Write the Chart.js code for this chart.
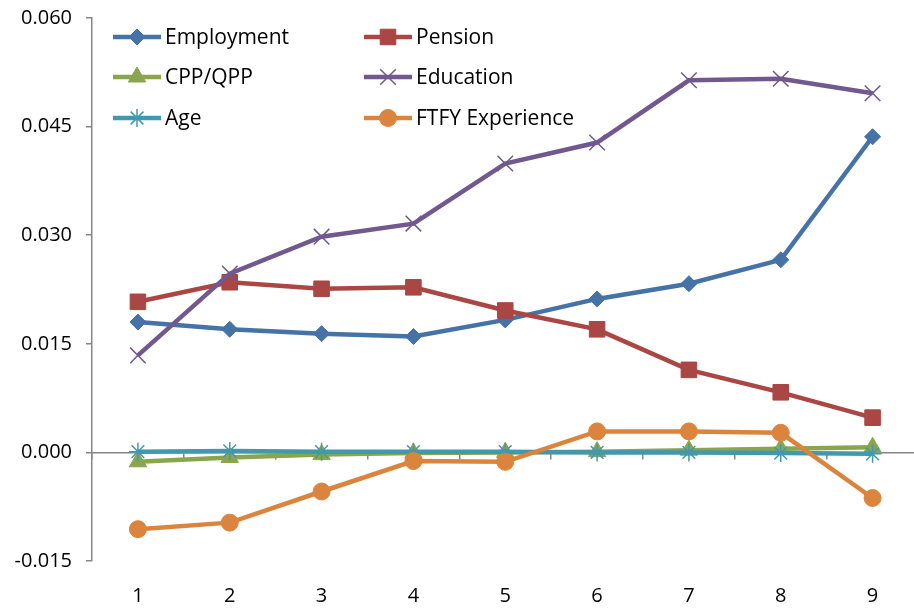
<!DOCTYPE html>
<html>
<head>
<meta charset="utf-8">
<script src="https://cdn.jsdelivr.net/npm/chart.js@4/dist/chart.umd.min.js"></script>
<style>
html, body { margin: 0; padding: 0; overflow: hidden; background: #fff; }
#wrap { position: relative; width: 931px; height: 620px; margin-top: -8px; }
</style>
</head>
<body>
<div id="wrap"><canvas id="c"></canvas></div>
<script>
const categories = ['1', '2', '3', '4', '5', '6', '7', '8', '9'];
const employment = [0.0180, 0.0170, 0.0164, 0.0160, 0.0183, 0.0212, 0.0233, 0.0266, 0.0436];
const pension    = [0.0208, 0.0235, 0.0226, 0.0228, 0.0196, 0.0170, 0.0114, 0.0083, 0.0048];
const cppqpp     = [-0.0013, -0.0007, -0.0003, -0.0001, 0.0000, 0.0001, 0.0003, 0.0005, 0.0007];
const education  = [0.0134, 0.0247, 0.0298, 0.0316, 0.0399, 0.0428, 0.0514, 0.0516, 0.0496];
const age        = [0.0001, 0.0002, 0.0001, 0.0001, 0.0001, 0.0000, 0.0000, -0.0001, -0.0002];
const ftfy       = [-0.0106, -0.0097, -0.0054, -0.0012, -0.0013, 0.0029, 0.0029, 0.0027, -0.0063];
const seriesNames = ['Employment', 'Pension', 'CPP/QPP', 'Education', 'Age', 'FTFY Experience'];
const yTicks = { min: -0.015, max: 0.060, step: 0.015 };

const SHIFT = 8;
const FONT = '"Open Sans", "DejaVu Sans", sans-serif';
const styles = [
  { color: '#4572A7', point: 'rectRot', radius: 8, pbw: 1 },
  { color: '#AA4643', point: 'rect', radius: 11, pbw: 1 },
  { color: '#89A54E', point: 'triangle', radius: 10, pbw: 1 },
  { color: '#71588F', point: 'crossRot', radius: 11, pbw: 1.5 },
  { color: '#4198AF', point: 'star', radius: 9, pbw: 1.5 },
  { color: '#DB843D', point: 'circle', radius: 8.5, pbw: 1 }
];
const values = [employment, pension, cppqpp, education, age, ftfy];

const datasets = values.map((v, i) => ({
  label: seriesNames[i],
  data: v,
  borderColor: styles[i].color,
  backgroundColor: styles[i].color,
  borderWidth: 4.5,
  pointStyle: styles[i].point,
  pointRadius: styles[i].radius,
  pointHoverRadius: styles[i].radius,
  pointBorderWidth: styles[i].pbw,
  pointBackgroundColor: styles[i].color,
  pointBorderColor: styles[i].color,
  tension: 0,
  order: values.length - i
}));

const legendPlugin = {
  id: 'gridLegend',
  afterDraw(chart) {
    const ctx = chart.ctx;
    const cols = [113, 364];
    const rows = [37, 77, 118];
    ctx.save();
    chart.data.datasets.forEach((ds, i) => {
      const x0 = cols[i % 2];
      const y = rows[Math.floor(i / 2)] + SHIFT;
      ctx.strokeStyle = ds.borderColor;
      ctx.lineWidth = 4.5;
      ctx.lineCap = 'butt';
      ctx.beginPath();
      ctx.moveTo(x0, y);
      ctx.lineTo(x0 + 48, y);
      ctx.stroke();
      ctx.fillStyle = ds.pointBackgroundColor;
      ctx.strokeStyle = ds.pointBorderColor;
      ctx.lineWidth = ds.pointBorderWidth;
      Chart.helpers.drawPoint(ctx, { pointStyle: ds.pointStyle, radius: ds.pointRadius, rotation: 0, borderWidth: ds.pointBorderWidth }, x0 + 24, y);
      ctx.fillStyle = '#000';
      ctx.font = '21px ' + FONT;
      ctx.textBaseline = 'middle';
      ctx.textAlign = 'left';
      ctx.fillText(ds.label, x0 + 52, y + 1);
    });
    ctx.restore();
  }
};

new Chart(document.getElementById('c'), {
  type: 'line',
  data: { labels: categories, datasets },
  plugins: [legendPlugin],
  options: {
    responsive: true,
    maintainAspectRatio: false,
    animation: false,
    layout: { padding: { top: 17 + SHIFT, right: 0, left: 0, bottom: 0 } },
    plugins: { legend: { display: false }, tooltip: { enabled: false } },
    scales: {
      x: {
        type: 'category',
        position: { y: 0 },
        offset: true,
        grid: { display: true, drawOnChartArea: false, offset: true, tickLength: 6, color: '#868686', lineWidth: 1.5 },
        border: { display: true, color: '#868686', width: 1.5 },
        ticks: { display: false, padding: 0 },
        afterFit(s) { s.height = 0; }
      },
      xl: {
        type: 'category',
        position: 'bottom',
        labels: categories,
        offset: true,
        grid: { display: true, drawOnChartArea: false, drawTicks: true, tickLength: 23, color: 'rgba(0,0,0,0)' },
        border: { display: false },
        ticks: { color: '#000', font: { family: FONT, size: 20 }, padding: 0, maxRotation: 0 },
        afterFit(s) { s.height = 51; }
      },
      y: {
        min: yTicks.min,
        max: yTicks.max,
        grid: { display: true, drawOnChartArea: false, tickLength: 6, color: '#868686', lineWidth: 1.5 },
        border: { display: true, color: '#868686', width: 1.5 },
        ticks: {
          stepSize: yTicks.step,
          color: '#000',
          font: { family: FONT, size: 20 },
          padding: 14,
          callback: v => v.toFixed(3)
        },
        afterFit(s) { s.width = 92; }
      }
    }
  }
});
</script>
</body>
</html>
